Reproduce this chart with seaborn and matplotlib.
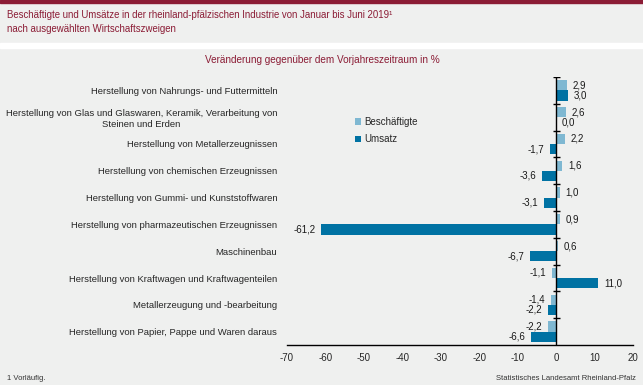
import matplotlib
matplotlib.use("Agg")
import matplotlib.pyplot as plt
import seaborn as sns
import pandas as pd
from matplotlib.patches import Rectangle

categories = [
    "Herstellung von Nahrungs- und Futtermitteln",
    "Herstellung von Glas und Glaswaren, Keramik, Verarbeitung von\nSteinen und Erden",
    "Herstellung von Metallerzeugnissen",
    "Herstellung von chemischen Erzeugnissen",
    "Herstellung von Gummi- und Kunststoffwaren",
    "Herstellung von pharmazeutischen Erzeugnissen",
    "Maschinenbau",
    "Herstellung von Kraftwagen und Kraftwagenteilen",
    "Metallerzeugung und -bearbeitung",
    "Herstellung von Papier, Pappe und Waren daraus",
]
beschaeftigte = [2.9, 2.6, 2.2, 1.6, 1.0, 0.9, 0.6, -1.1, -1.4, -2.2]
umsatz = [3.0, 0.0, -1.7, -3.6, -3.1, -61.2, -6.7, 11.0, -2.2, -6.6]
series_names = ["Beschäftigte", "Umsatz"]
xticks = [-70, -60, -50, -40, -30, -20, -10, 0, 10, 20]

BG = "#eff0ef"
RED = "#8b1c35"
LIGHT = "#7fb8d2"
DARK = "#0072a3"

df = pd.DataFrame({
    "Kategorie": categories * 2,
    "Wert": beschaeftigte + umsatz,
    "Reihe": [series_names[0]] * len(categories) + [series_names[1]] * len(categories),
})

sns.set_theme(style="white")
plt.rcParams["font.family"] = ["Liberation Sans", "DejaVu Sans"]

W, H = 643, 385
fig = plt.figure(figsize=(W / 100, H / 100), dpi=100, facecolor=BG)

# header decorations
fig.patches.append(Rectangle((0, 1 - 3 / H), 1, 3 / H, transform=fig.transFigure,
                             color=RED, zorder=0))
fig.patches.append(Rectangle((0, 1 - 48 / H), 1, 5 / H, transform=fig.transFigure,
                             color="white", zorder=0))

ax = fig.add_axes([287 / W, 1 - 345 / H, 346 / W, 268 / H])
ax.set_facecolor(BG)

sns.barplot(data=df, y="Kategorie", x="Wert", hue="Reihe", orient="h",
            palette=[LIGHT, DARK], width=0.76, saturation=1, linewidth=0,
            edgecolor="none", ax=ax)

ax.set_xlim(-70, 20)
ax.set_ylim(len(categories) - 0.5, -0.5)
ax.set_xticks(xticks)
ax.set_xticklabels([str(t) for t in xticks], fontsize=7)
ax.set_xlabel("")
ax.set_ylabel("")

for c in ax.containers:
    ax.bar_label(c, labels=[f"{v:.1f}".replace(".", ",") for v in c.datavalues],
                 padding=4, fontsize=7, color="#1a1a1a")

for s in ["top", "right", "left"]:
    ax.spines[s].set_visible(False)
ax.spines["bottom"].set_color("black")
ax.spines["bottom"].set_linewidth(1)
ax.tick_params(axis="x", direction="out", length=4, width=1, color="black", pad=2)
ax.tick_params(axis="y", length=0, pad=7)
for lbl in ax.get_yticklabels():
    lbl.set_fontsize(6.8)
    lbl.set_multialignment("center")

ax.axvline(0, color="black", lw=1, zorder=5)
for b in range(len(categories)):
    ax.plot([-0.9, 0.9], [b - 0.5, b - 0.5], color="black", lw=1, zorder=5,
            solid_capstyle="butt")

leg = ax.legend(loc="upper left", bbox_to_anchor=(0.17, 0.885), frameon=False,
                fontsize=7, handlelength=0.7, handleheight=0.7, handletextpad=0.3,
                labelspacing=0.8)

fig.text(7 / W, 1 - 18 / H,
         "Beschäftigte und Umsätze in der rheinland-pfälzischen Industrie von Januar bis Juni 2019¹",
         fontsize=6.9, color=RED, va="baseline", ha="left")
fig.text(7 / W, 1 - 32 / H, "nach ausgewählten Wirtschaftszweigen",
         fontsize=6.9, color=RED, va="baseline", ha="left")
fig.text(322 / W, 1 - 63 / H, "Veränderung gegenüber dem Vorjahreszeitraum in %",
         fontsize=7.2, color=RED, va="baseline", ha="center")
fig.text(7 / W, 1 - 380 / H, "1 Vorläufig.", fontsize=5.5, color="#333333",
         va="baseline", ha="left")
fig.text(636 / W, 1 - 380 / H, "Statistisches Landesamt Rheinland-Pfalz", fontsize=5.5,
         color="#333333", va="baseline", ha="right")

fig.savefig("out.png", dpi=100, facecolor=BG)
